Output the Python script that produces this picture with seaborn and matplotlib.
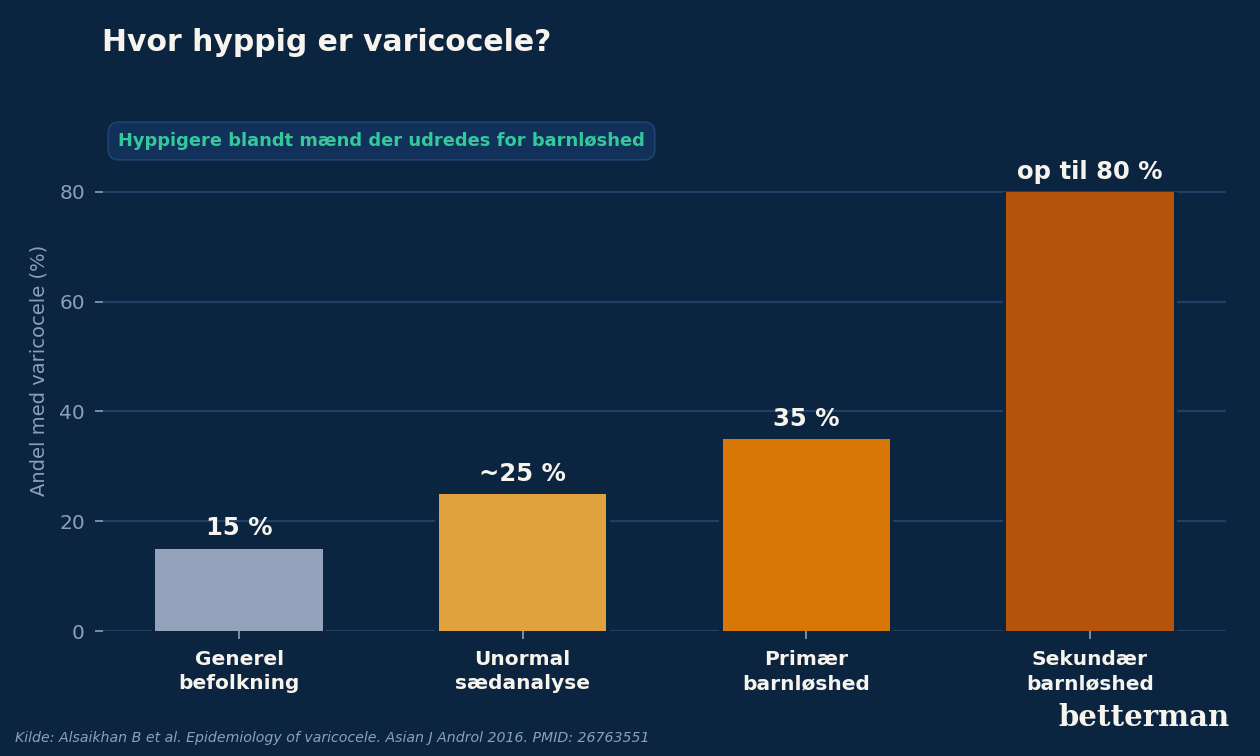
import matplotlib
matplotlib.use("Agg")
import matplotlib.pyplot as plt
import seaborn as sns
import pandas as pd

# Data
categories = ["Generel\nbefolkning", "Unormal\nsædanalyse", "Primær\nbarnløshed", "Sekundær\nbarnløshed"]
values = [15, 25, 35, 80]
value_labels = ["15 %", "~25 %", "35 %", "op til 80 %"]
bar_colors = ["#94a3bb", "#e0a23c", "#d97706", "#b45309"]

# Colours
bg = "#0b2540"
grid_col = "#1e3f66"
muted = "#8e9fb7"
text_col = "#f7f4ee"
accent = "#34c99a"

df = pd.DataFrame({"kategori": categories, "andel": values})

sns.set_theme(style="dark")
plt.rcParams["font.family"] = ["DejaVu Sans"]

fig = plt.figure(figsize=(12.6, 7.56), dpi=100, facecolor=bg)
ax = fig.add_axes([0.0817, 0.1653, 0.8913, 0.69])
ax.set_facecolor(bg)

ax.yaxis.grid(True, color=grid_col, linewidth=1.6, zorder=0)
ax.xaxis.grid(False)
ax.set_axisbelow(True)

# halo behind the bars so the gridlines stop short of them
sns.barplot(data=df, x="kategori", y="andel", color=bg, width=0.615,
            linewidth=0, saturation=1, ax=ax, zorder=1.5)
sns.barplot(data=df, x="kategori", y="andel", hue="kategori", palette=bar_colors,
            legend=False, width=0.59, linewidth=0, saturation=1, ax=ax, zorder=2)

for i, (v, lab) in enumerate(zip(values, value_labels)):
    ax.text(i, v + 2.4, lab, ha="center", va="baseline", fontsize=17.5,
            fontweight="bold", color=text_col, zorder=3)

ax.set_ylim(0, 95)
ax.set_xlim(-0.48, 3.48)
ax.set_yticks([0, 20, 40, 60, 80])
for s in ax.spines.values():
    s.set_visible(False)

ax.tick_params(axis="y", colors=muted, labelsize=14.5, length=6, width=1.2, pad=7, left=True)
ax.tick_params(axis="x", colors=muted, labelcolor=text_col, length=6, width=1.2, pad=8, bottom=True)
for t in ax.get_xticklabels():
    t.set_fontsize(14.5)
    t.set_fontweight("bold")
    t.set_linespacing(1.3)

ax.set_xlabel("")
ax.set_ylabel("Andel med varicocele (%)", color=muted, fontsize=14, labelpad=8)

fig.text(0.081, 1 - 51 / 756, "Hvor hyppig er varicocele?", fontsize=21.5,
         fontweight="bold", color=text_col, va="baseline", ha="left")

fig.text(0.0937, 1 - 141 / 756, "Hyppigere blandt mænd der udredes for barnløshed",
         fontsize=12.9, fontweight="bold", color=accent, va="center", ha="left",
         bbox=dict(boxstyle="round,pad=0.55,rounding_size=0.6", facecolor="#11305a",
                   edgecolor="#1f4470", linewidth=1.2))

fig.text(0.012, 1 - 738 / 756,
         "Kilde: Alsaikhan B et al. Epidemiology of varicocele. Asian J Androl 2016. PMID: 26763551",
         fontsize=10.15, fontstyle="italic", color=muted, va="center", ha="left")

fig.text(0.976, 1 - 718 / 756, "betterman", fontsize=21, fontweight="bold",
         family="DejaVu Serif", color=text_col, va="center", ha="right")

fig.savefig("out.png", dpi=100, facecolor=bg)
